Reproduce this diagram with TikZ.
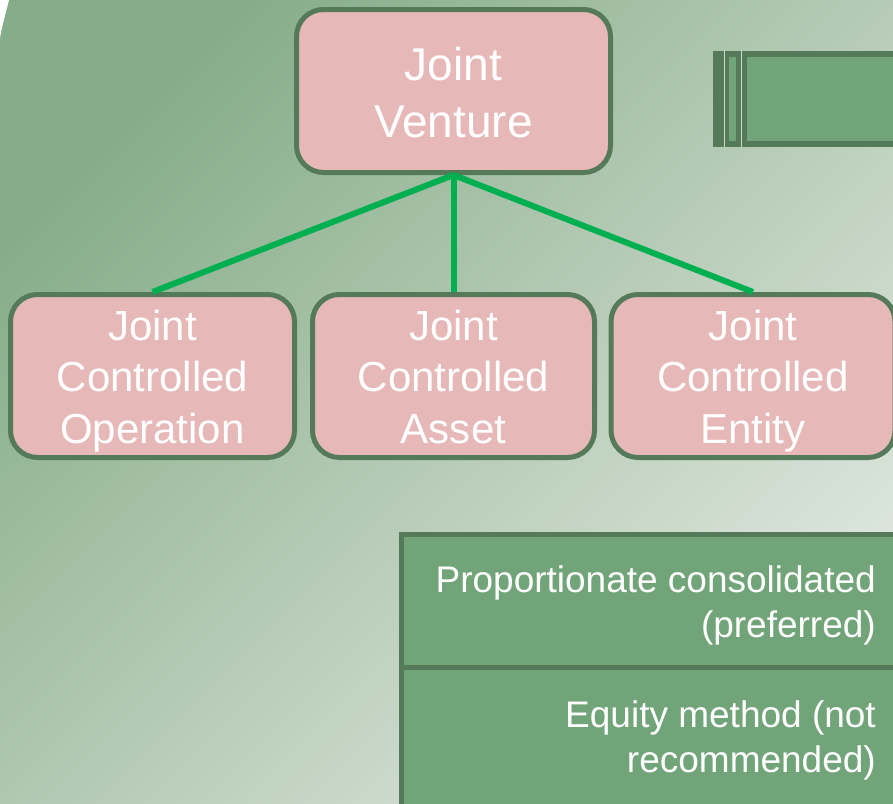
\documentclass[tikz,border=0pt]{standalone}
\usepackage{fontspec}
\setmainfont{Liberation Sans}
\definecolor{bgdark}{HTML}{86AD89}
\definecolor{bgmid}{HTML}{B3C9B3}
\definecolor{bglight}{HTML}{DDE6DD}
\definecolor{pinkfill}{HTML}{E6B8B7}
\definecolor{darkgreen}{HTML}{557A5A}
\definecolor{midgreen}{HTML}{72A47A}
\definecolor{linegreen}{HTML}{00B050}
\newcommand{\topst}[1]{\rule{0pt}{#1}}
\newcommand{\botst}{\rule[-10pt]{0pt}{10pt}}
\tikzset{
  pinkbox/.style={draw=darkgreen, line width=5pt, fill=pinkfill, rounded corners=27pt,
    text=white, align=center, inner sep=0pt, minimum height=163pt},
  bigtext/.style={font=\fontsize{46}{57}\selectfont},
  midtext/.style={font=\fontsize{42}{51.5}\selectfont},
  celltext/.style={font=\fontsize{37}{45}\selectfont, text=white, align=right, inner sep=0pt},
  link/.style={draw=linegreen, line width=6pt}
}
\begin{document}
\begin{tikzpicture}[x=1pt,y=-1pt]
\useasboundingbox (0,0) rectangle (893,803);
\begin{scope}
\clip (0,0) rectangle (893,803);
\shade[top color=bgdark, bottom color=bglight, middle color=bgmid, shading angle=45] (0,0) rectangle (893,803);
\fill[white] (0,0) -- (9,0) .. controls (6,12) and (2,26) .. (0,38) -- cycle;
% decorative header bar
\fill[darkgreen] (713,51) rectangle (900,147);
\fill[midgreen] (729,57) rectangle (736,141);
\fill[midgreen] (747,57) rectangle (900,141);
\draw[color=bgmid!70!white, line width=0.7pt] (724,51) -- (724,147);
\draw[color=bgmid!70!white, line width=0.7pt] (741,51) -- (741,147);
% nodes
\node[pinkbox, bigtext, minimum width=314pt] (jv) at (453.5,91) {\topst{45pt}Joint\\Venture\botst};
\node[pinkbox, midtext, minimum width=284pt] (jco) at (152.5,376) {\topst{41pt}Joint\\Controlled\\Operation\botst};
\node[pinkbox, midtext, minimum width=282pt] (jca) at (453.5,376) {\topst{41pt}Joint\\Controlled\\Asset\botst};
\node[pinkbox, midtext, minimum width=284pt] (jce) at (753,376) {\topst{41pt}Joint\\Controlled\\Entity\botst};
\draw[link] (jv.south) -- (jco.north);
\draw[link] (jv.south) -- (jca.north);
\draw[link] (jv.south) -- (jce.north);
% method table
\draw[draw=darkgreen, line width=5pt, fill=midgreen] (401.5,534.5) rectangle (905,815);
\draw[draw=darkgreen, line width=5pt] (401.5,667) -- (905,667);
\node[celltext, anchor=east] (pc) at (876,605) {Proportionate consolidated\\(preferred)};
\node[celltext, anchor=east] (eq) at (876,740) {Equity method (not\\recommended)};
\end{scope}
\end{tikzpicture}
\end{document}
